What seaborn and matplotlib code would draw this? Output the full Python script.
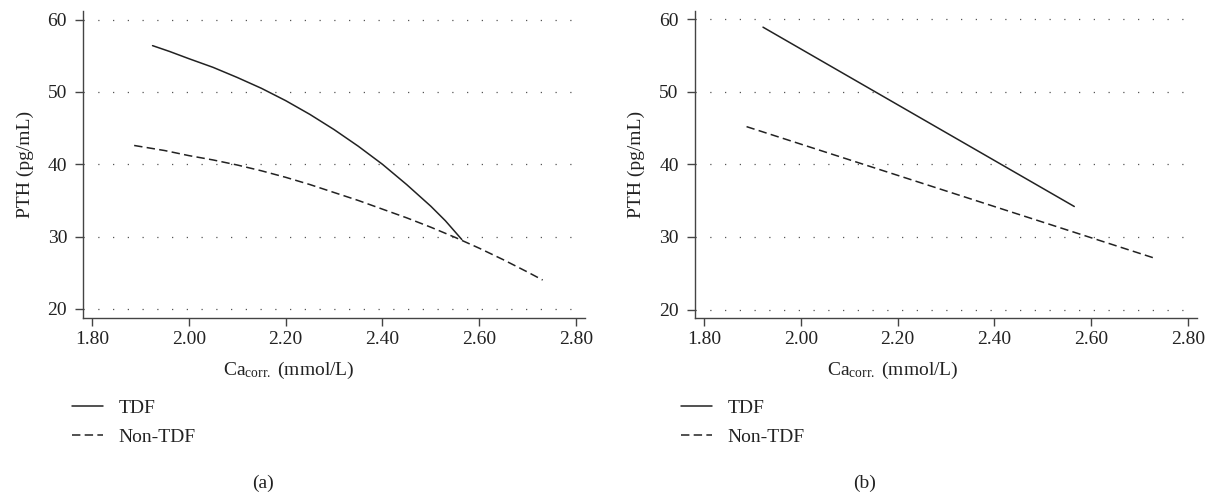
import matplotlib
matplotlib.use("Agg")
from matplotlib import pyplot as plt
import numpy as np
import pandas as pd
import seaborn as sns

# panel (a): fitted curves
ca_a_tdf = [1.925, 1.96, 2.00, 2.05, 2.10, 2.15, 2.20, 2.25, 2.30, 2.35,
            2.40, 2.45, 2.50, 2.53, 2.564]
pth_a_tdf = [56.4, 55.6, 54.6, 53.4, 52.0, 50.5, 48.8, 46.9, 44.8, 42.5,
             40.0, 37.2, 34.2, 32.2, 29.6]
ca_a_non = [1.887, 1.95, 2.00, 2.05, 2.10, 2.15, 2.20, 2.25, 2.30, 2.35,
            2.40, 2.45, 2.50, 2.55, 2.60, 2.65, 2.70, 2.731]
pth_a_non = [42.6, 41.9, 41.2, 40.6, 39.9, 39.1, 38.2, 37.2, 36.1, 35.0,
             33.8, 32.6, 31.3, 29.9, 28.4, 26.8, 25.1, 24.0]

# panel (b): linear fits
ca_b_tdf = [1.922, 2.565]
pth_b_tdf = [58.9, 34.2]
ca_b_non = [1.888, 2.730]
pth_b_non = [45.2, 27.1]

groups = ["TDF", "Non-TDF"]
x_ticks = [1.8, 2.0, 2.2, 2.4, 2.6, 2.8]
y_ticks = [20, 30, 40, 50, 60]
panel_labels = ["(a)", "(b)"]


def make_df(ca_tdf, pth_tdf, ca_non, pth_non):
    return pd.concat([
        pd.DataFrame({"ca": ca_tdf, "pth": pth_tdf, "group": groups[0]}),
        pd.DataFrame({"ca": ca_non, "pth": pth_non, "group": groups[1]}),
    ])


sns.set_theme(style="ticks")
plt.rcParams['font.family'] = ['Liberation Serif', 'DejaVu Serif']
plt.rcParams['mathtext.fontset'] = 'custom'
plt.rcParams['mathtext.rm'] = 'Liberation Serif'
plt.rcParams['mathtext.it'] = 'Liberation Serif:italic'

dark = "#222222"
axis_col = "#444444"
fs = 14

fig = plt.figure(figsize=(12.14, 4.96), dpi=100)
ax_a = fig.add_axes([0.0684, 0.359, 0.4135, 0.619])
ax_b = fig.add_axes([0.5722, 0.359, 0.4136, 0.619])

data = [make_df(ca_a_tdf, pth_a_tdf, ca_a_non, pth_a_non),
        make_df(ca_b_tdf, pth_b_tdf, ca_b_non, pth_b_non)]
xlims = [(1.7814, 2.8186), (1.7808, 2.818)]
ylims = [(18.76, 61.2), (18.85, 61.14)]
leg_x = [-0.022, -0.027]
lab_x = [0.2166, 0.7125]
xlab_x = [0.41, 0.395]

for i, ax in enumerate([ax_a, ax_b]):
    sns.lineplot(data=data[i], x="ca", y="pth", style="group",
                 dashes={"TDF": "", "Non-TDF": (5.5, 2.8)},
                 color=dark, linewidth=1.1, sort=False, ax=ax)

    ax.set_xlim(*xlims[i])
    ax.set_ylim(*ylims[i])
    ax.set_xticks(x_ticks)
    ax.set_xticklabels([f"{t:.2f}" for t in x_ticks])
    ax.set_yticks(y_ticks)
    ax.yaxis.grid(True, color="#555555", linestyle=(0, (1, 10.8)), linewidth=0.9)

    sns.despine(ax=ax)
    for s in ["left", "bottom"]:
        ax.spines[s].set_color(axis_col)
        ax.spines[s].set_linewidth(1.0)
    ax.tick_params(axis="both", colors=axis_col, length=5.5, width=1.0,
                   labelsize=fs, labelcolor="#222222", pad=4)
    ax.tick_params(axis="y", pad=6)

    ax.set_ylabel("PTH (pg/mL)", fontsize=fs, color="#222222", labelpad=10)
    ax.set_xlabel(r"Ca$_{\mathrm{corr.}}$ (mmol/L)", fontsize=fs, color="#222222")
    ax.xaxis.set_label_coords(xlab_x[i], -0.135)

    ax.legend(loc="upper left", bbox_to_anchor=(leg_x[i], -0.265),
              frameon=False, borderaxespad=0, borderpad=0, fontsize=fs,
              handlelength=1.6, handletextpad=0.8, labelspacing=0.6,
              labelcolor="#222222")

    fig.text(lab_x[i], 0.026, panel_labels[i], ha="center", va="center",
             fontsize=fs, color="#222222")

fig.savefig("out.png", dpi=100)
